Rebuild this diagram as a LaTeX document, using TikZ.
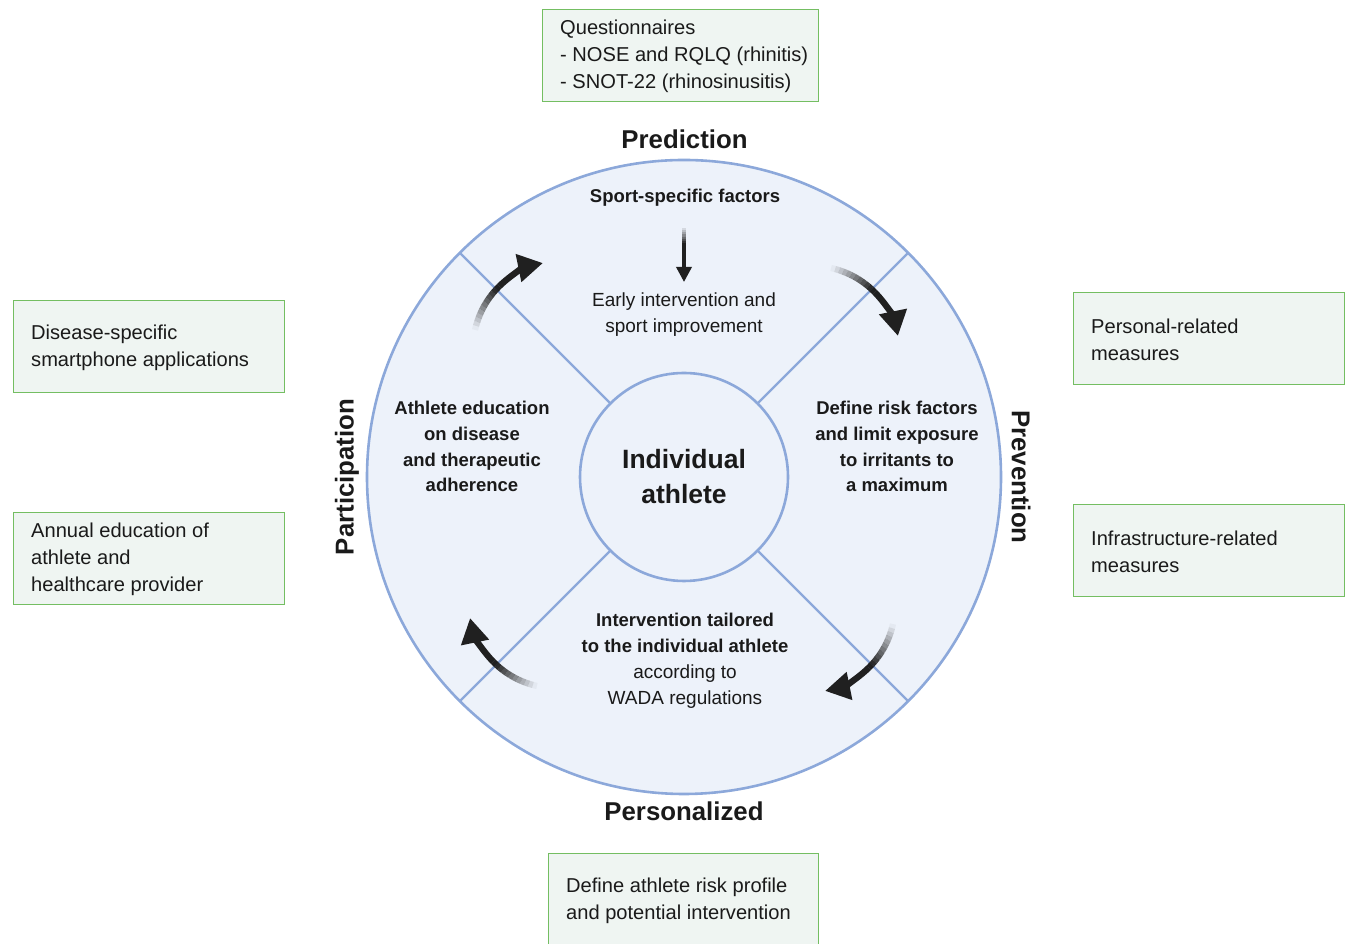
\documentclass[tikz,border=0pt]{standalone}
\usepackage{fontspec}
\setmainfont{Liberation Sans}
\usetikzlibrary{arrows.meta,calc}
\definecolor{ringblue}{HTML}{8CA8DA}
\definecolor{ringfill}{HTML}{EDF2FA}
\definecolor{boxgreen}{HTML}{74BE62}
\definecolor{boxfill}{HTML}{EFF5F2}
\definecolor{ink}{HTML}{1A1A1A}
\definecolor{arrowink}{HTML}{202020}
\newcommand\qb{\fontsize{18.5}{25.8}\selectfont\bfseries}
\newcommand\fadearc{%
  \foreach \k in {0,...,11}{%
    \pgfmathsetmacro\sa{167.6-\k*2.75}%
    \pgfmathsetmacro\ea{\sa-2.75}%
    \pgfmathsetmacro\op{min(1,0.04+\k*0.09)}%
    \draw[shaft, draw opacity=\op] (560.4,595.3) ++(\sa:87.4) arc[start angle=\sa, end angle=\ea, radius=87.4];
  }%
  \draw[shaft, -{Triangle[length=25pt,width=27pt]}] (560.4,595.3) ++(134.6:87.4) arc[start angle=134.6, end angle=101.5, radius=87.4];%
}
\begin{document}
\begin{tikzpicture}[x=1pt,y=1pt,
  ring/.style={draw=ringblue, line width=2.6pt, fill=ringfill, circle, inner sep=0pt, outer sep=0pt},
  spoke/.style={draw=ringblue, line width=2.2pt},
  infobox/.style={draw=boxgreen, line width=1.3pt, fill=boxfill, rectangle, anchor=north west, minimum height=92pt, inner sep=0pt},
  boxtext/.style={anchor=west, align=left, inner sep=0pt, text=ink, font=\fontsize{20.1}{27}\selectfont},
  biglabel/.style={font=\bfseries\fontsize{25.8}{30}\selectfont, text=ink, inner sep=0pt},
  qbold/.style={font=\qb, align=center, text=ink, inner sep=0pt},
  qnorm/.style={font=\fontsize{19}{26}\selectfont, align=center, text=ink, inner sep=0pt},
  shaft/.style={draw=arrowink, line width=6.3pt},
  thinshaft/.style={draw=arrowink, line width=3.4pt},
]
\useasboundingbox (0,0) rectangle (1346,944);
\coordinate (C) at (684,467);
% wheel
\node[ring, minimum size=634pt] (outer) at (C) {};
\node[ring, minimum size=208pt, font=\bfseries\fontsize{26.5}{35}\selectfont, text=ink, align=center] (inner) at (C) {Individual\\athlete};
\foreach \a in {45,135,225,315} \draw[spoke] (inner.\a) -- (outer.\a);
% section labels
\node[biglabel] (pred) at (684.5,805) {Prediction};
\node[biglabel] (pers) at (684,133) {Personalized};
\node[biglabel, rotate=90] (part) at (347,467) {Participation};
\node[biglabel, rotate=-90] (prev) at (1021,467) {Prevention};
% quadrant texts
\node[qbold] (sport) at (685,746) {Sport-specific factors};
\node[qnorm] (early) at (684,629) {Early intervention and\\sport improvement};
\node[qbold] (define) at (897,497.5) {Define risk factors\\and limit exposure\\to irritants to\\a maximum};
\node[qbold] (athedu) at (472,497.5) {Athlete education\\on disease\\and therapeutic\\adherence};
\node[qnorm] (tailored) at (685,283.5) {{\qb Intervention tailored}\\{\qb to the individual athlete}\\according to\\WADA regulations};
% down arrow
\coordinate (da1) at (684,716);
\coordinate (da2) at (684,662);
\foreach \k in {0,...,7}{%
  \pgfmathsetmacro\ta{\k*0.04}%
  \pgfmathsetmacro\tb{\ta+0.04}%
  \pgfmathsetmacro\op{min(1,0.12+\k*0.13)}%
  \draw[thinshaft, draw opacity=\op] ($(da1)!\ta!(da2)$) -- ($(da1)!\tb!(da2)$);
}
\draw[thinshaft, -{Triangle[length=15pt,width=15pt]}] ($(da1)!0.32!(da2)$) -- (da2);
% curved cycle arrows
\begin{scope}\fadearc\end{scope}
\begin{scope}[rotate around={-90:(C)}]\fadearc\end{scope}
\begin{scope}[rotate around={-180:(C)}]\fadearc\end{scope}
\begin{scope}[rotate around={-270:(C)}]\fadearc\end{scope}
% boxes
\node[infobox, minimum width=276pt] (qbox) at (542,935) {};
\node[boxtext] (qtext) at ([xshift=18pt,yshift=-1pt]qbox.west) {Questionnaires\\- NOSE and RQLQ (rhinitis)\\- SNOT-22 (rhinosinusitis)};
\node[infobox, minimum width=271pt] (appbox) at (13,644) {};
\node[boxtext] (apptext) at ([xshift=18pt,yshift=-1pt]appbox.west) {Disease-specific\\smartphone applications};
\node[infobox, minimum width=271pt] (edubox) at (13,432) {};
\node[boxtext] (edutext) at ([xshift=18pt,yshift=-1pt]edubox.west) {Annual education of\\athlete and\\healthcare provider};
\node[infobox, minimum width=271pt] (persbox) at (1073,652) {};
\node[boxtext] (perstext) at ([xshift=18pt,yshift=-1pt]persbox.west) {Personal-related\\measures};
\node[infobox, minimum width=271pt] (infrabox) at (1073,440) {};
\node[boxtext] (infratext) at ([xshift=18pt,yshift=-1pt]infrabox.west) {Infrastructure-related\\measures};
\node[infobox, minimum width=270pt] (riskbox) at (548,91) {};
\node[boxtext] (risktext) at ([xshift=18pt,yshift=-1pt]riskbox.west) {Define athlete risk profile\\and potential intervention};
\end{tikzpicture}
\end{document}
